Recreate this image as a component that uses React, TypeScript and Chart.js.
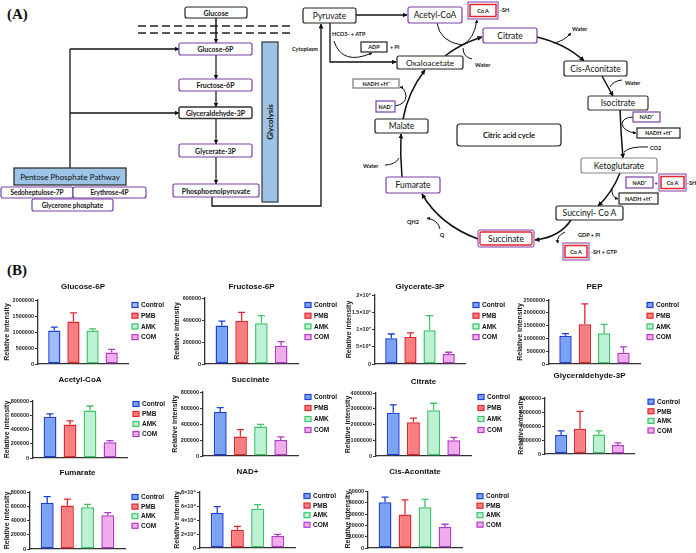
import React, { useEffect, useRef } from 'react';
import { Chart, registerables } from 'chart.js';
Chart.register(...registerables);

const FAM = '"Liberation Sans", Arial, sans-serif';
const DFAM = 'Lato, "Liberation Sans", sans-serif';

const groups = ['Control', 'PMB', 'AMK', 'COM'];
const groupFills = ['#7AA3F3', '#F77F7F', '#BDF1D5', '#F1ACEB'];
const groupBorders = ['#1E3FD9', '#E2262D', '#3DC466', '#B13BC9'];

const glucose6pMeans = [1050000, 1330000, 1050000, 360000];
const glucose6pSd = [100000, 270000, 50000, 100000];
const fructose6pMeans = [350000, 390000, 370000, 166000];
const fructose6pSd = [40000, 80000, 70000, 37000];
const glycerate3pMeans = [7.5e6, 7.8e6, 9.8e6, 2.9e6];
const glycerate3pSd = [1.2e6, 1.2e6, 4.2e6, 0.5e6];
const pepMeans = [1100000, 1550000, 1200000, 440000];
const pepSd = [90000, 800000, 350000, 230000];
const acetylCoaMeans = [580000, 470000, 665000, 220000];
const acetylCoaSd = [40000, 50000, 65000, 25000];
const succinateMeans = [550000, 245000, 370000, 200000];
const succinateSd = [55000, 85000, 25000, 38000];
const citrateMeans = [2750000, 2150000, 2900000, 1000000];
const citrateSd = [500000, 250000, 450000, 180000];
const glyceraldehyde3pMeans = [2700000, 3600000, 2800000, 1300000];
const glyceraldehyde3pSd = [600000, 2500000, 500000, 300000];
const fumarateMeans = [64500, 61000, 58500, 47500];
const fumarateSd = [9000, 9000, 4000, 3500];
const nadMeans = [50000, 26000, 56000, 17000];
const nadSd = [9000, 5000, 6000, 2500];
const cisAconitateMeans = [40500, 29500, 36000, 18500];
const cisAconitateSd = [4500, 13000, 7000, 2500];

const glycerate3pTicks = ['0', '5×10⁶', '1×10⁷', '1.5×10⁷', '2×10⁷'];
const nadTicks = ['0', '2×10⁴', '4×10⁴', '6×10⁴', '8×10⁴'];

// layout: area = [left, top, right, bottom]
const panels = [
  { title: 'Glucose-6P', means: glucose6pMeans, sd: glucose6pSd, max: 2000000, step: 500000, area: [38, 300, 128, 364], titleY: 287, labelX: 8, legendX: 132, legendTop: 305, spacing: 10.7, controlFill: '#9DBDF4' },
  { title: 'Fructose-6P', means: fructose6pMeans, sd: fructose6pSd, max: 600000, step: 200000, area: [205, 298, 298, 364], titleY: 287, labelX: 178, legendX: 305, legendTop: 305, spacing: 10.7 },
  { title: 'Glycerate-3P', means: glycerate3pMeans, sd: glycerate3pSd, max: 2e7, step: 5e6, ticks: glycerate3pTicks, area: [375, 295, 465, 364], titleY: 287, labelX: 350, legendX: 473, legendTop: 305, spacing: 10.7 },
  { title: 'PEP', means: pepMeans, sd: pepSd, max: 2500000, step: 500000, area: [549, 300, 640, 364], titleY: 287, labelX: 521, legendX: 647, legendTop: 305, spacing: 10.7 },
  { title: 'Acetyl-CoA', means: acetylCoaMeans, sd: acetylCoaSd, max: 800000, step: 200000, area: [33, 401, 127, 458], titleY: 380, labelX: 8, legendX: 133, legendTop: 404, spacing: 10 },
  { title: 'Succinate', means: succinateMeans, sd: succinateSd, max: 800000, step: 200000, area: [203, 392, 298, 456], titleY: 380, labelX: 176, legendX: 305, legendTop: 397, spacing: 11 },
  { title: 'Citrate', means: citrateMeans, sd: citrateSd, max: 4000000, step: 1000000, area: [376, 393, 471, 456], titleY: 382, labelX: 349, legendX: 478, legendTop: 397, spacing: 11 },
  { title: 'Glyceraldehyde-3P', means: glyceraldehyde3pMeans, sd: glyceraldehyde3pSd, max: 8000000, step: 2000000, area: [545, 398, 634, 454], titleY: 376, labelX: 522, legendX: 648, legendTop: 401.7, spacing: 9.6 },
  { title: 'Fumarate', means: fumarateMeans, sd: fumarateSd, max: 80000, step: 20000, area: [30, 491.5, 125, 548], titleY: 472.5, labelX: 8, legendX: 132, legendTop: 496.5, spacing: 9.6 },
  { title: 'NAD+', means: nadMeans, sd: nadSd, max: 80000, step: 20000, ticks: nadTicks, area: [200, 492, 295, 548], titleY: 472, labelX: 178, legendX: 304, legendTop: 496, spacing: 9.6 },
  { title: 'Cis-Aconitate', means: cisAconitateMeans, sd: cisAconitateSd, max: 50000, step: 10000, area: [368, 491.7, 462, 548], titleY: 472.3, labelX: 349, legendX: 477, legendTop: 496.5, spacing: 9.5 },
];

const errorBars = {
  id: 'errorBars',
  afterDatasetsDraw(chart: any) {
    const { ctx } = chart;
    const y = chart.scales.y;
    ctx.save();
    chart.data.datasets.forEach((ds: any, i: number) => {
      const el = chart.getDatasetMeta(i).data[0];
      if (!el) return;
      const top = y.getPixelForValue(ds.data[0] + ds.sd);
      ctx.strokeStyle = ds.borderColor;
      ctx.lineWidth = 1.3;
      ctx.beginPath();
      ctx.moveTo(el.x, el.y);
      ctx.lineTo(el.x, top);
      ctx.moveTo(el.x - 3.5, top);
      ctx.lineTo(el.x + 3.5, top);
      ctx.stroke();
    });
    ctx.restore();
  },
};

const decor = {
  id: 'decor',
  afterDraw(chart: any, _a: any, o: any) {
    const { ctx, chartArea } = chart;
    ctx.save();
    ctx.fillStyle = '#111';
    ctx.font = `bold 8px ${FAM}`;
    ctx.textAlign = 'center';
    ctx.textBaseline = 'middle';
    ctx.fillText(o.title, (chartArea.left + chartArea.right) / 2, o.titleY);
    chart.data.datasets.forEach((ds: any, i: number) => {
      const yy = o.legendTop + i * o.spacing;
      ctx.fillStyle = ds.backgroundColor;
      ctx.fillRect(o.legendX, yy - 2.5, 6, 5);
      ctx.strokeStyle = ds.borderColor;
      ctx.lineWidth = 1.2;
      ctx.strokeRect(o.legendX, yy - 2.5, 6, 5);
      ctx.fillStyle = '#111';
      ctx.textAlign = 'left';
      ctx.font = `bold 6.5px ${FAM}`;
      ctx.fillText(ds.label, o.legendX + 9, yy + 0.5);
    });
    ctx.restore();
  },
};

function BarPanel({ p }: { p: any }) {
  const ref = useRef<HTMLCanvasElement>(null);
  const cl = p.labelX - 5;
  const ct = p.titleY - 7;
  const cr = p.legendX + 40;
  const cb = p.area[3] + 5;
  const w = Math.round(cr - cl);
  const h = Math.round(cb - ct);
  useEffect(() => {
    if (!ref.current) return;
    const chart = new Chart(ref.current, {
      type: 'bar',
      data: {
        labels: [''],
        datasets: groups.map((g, i) => ({
          label: g,
          data: [p.means[i]],
          sd: p.sd[i],
          backgroundColor: i === 0 && p.controlFill ? p.controlFill : groupFills[i],
          borderColor: groupBorders[i],
          borderWidth: 1.5,
          borderSkipped: false,
          categoryPercentage: 0.85,
          barPercentage: 0.64,
        })) as any,
      },
      options: {
        responsive: false,
        animation: false,
        devicePixelRatio: 1,
        layout: { padding: { left: 0, top: p.area[1] - ct, right: cr - p.area[2], bottom: cb - p.area[3] } },
        plugins: {
          legend: { display: false },
          title: { display: false },
          tooltip: { enabled: false },
          decor: {
            title: p.title,
            titleY: p.titleY - ct,
            legendX: p.legendX - cl,
            legendTop: p.legendTop - ct,
            spacing: p.spacing,
          },
        } as any,
        scales: {
          x: {
            type: 'category',
            ticks: { display: false },
            grid: { display: false },
            border: { display: true, color: '#333', width: 1.3 },
            afterFit: (sc: any) => { sc.height = 0; },
          },
          y: {
            min: 0,
            max: p.max,
            ticks: {
              stepSize: p.step,
              padding: 1,
              color: '#222',
              font: { size: 5.5, weight: 'bold', family: FAM },
              callback: (v: any, i: number) => (p.ticks ? p.ticks[i] : String(v)),
            },
            grid: { display: true, drawOnChartArea: false, drawTicks: true, tickLength: 3, color: '#333', lineWidth: 1 },
            border: { display: true, color: '#333', width: 1.3 },
            title: { display: true, text: 'Relative intensity', color: '#222', padding: 0, font: { size: 7, weight: 'bold', family: FAM } },
            afterFit: (sc: any) => { sc.width = p.area[0] - cl; },
          },
        } as any,
      },
      plugins: [errorBars, decor],
    });
    return () => chart.destroy();
  }, []);
  return <canvas ref={ref} width={w} height={h} style={{ position: 'absolute', left: cl, top: ct, width: w, height: h }} />;
}

const PURPLE = '#7B3FA8';
const RED = '#E3262E';
const BLUEFILL = '#9DC3E6';

function Box({ x, y, w, h, stroke = '#222', fill = '#fff', sw = 1.2, rx = 2 }: any) {
  return <rect x={x} y={y} width={w} height={h} rx={rx} fill={fill} stroke={stroke} strokeWidth={sw} />;
}
function T({ x, y, s = 7, b = true, a = 'middle', children, rot }: any) {
  return (
    <text x={x} y={y} fontSize={s} fontWeight={b ? 'bold' : 'normal'} textAnchor={a} dominantBaseline="central" fontFamily={DFAM} fill="#111" transform={rot ? `rotate(${rot} ${x} ${y})` : undefined}>{children}</text>
  );
}
function Ar({ d, w = 1.5, m = 'a' }: any) {
  return <path d={d} fill="none" stroke="#111" strokeWidth={w} markerEnd={m ? `url(#${m})` : undefined} />;
}
function CoA({ x, y, w, h }: any) {
  return (
    <g>
      <rect x={x} y={y} width={w} height={h} fill="#fff" stroke={PURPLE} strokeWidth={1} />
      <rect x={x + 2} y={y + 2.5} width={w - 4} height={h - 5} fill="#fff" stroke={RED} strokeWidth={1.5} />
      <T x={x + w / 2} y={y + h / 2} s={5.5}>Co A</T>
    </g>
  );
}

function Diagram() {
  return (
    <svg width={696} height={553} style={{ position: 'absolute', left: 0, top: 0 }}>
      <defs>
        <marker id="a" viewBox="0 0 10 10" refX="9" refY="5" markerWidth="5" markerHeight="5" orient="auto" markerUnits="userSpaceOnUse">
          <path d="M0,0 L10,5 L0,10 z" fill="#111" />
        </marker>
        <marker id="s" viewBox="0 0 10 10" refX="9" refY="5" markerWidth="3.5" markerHeight="3.5" orient="auto" markerUnits="userSpaceOnUse">
          <path d="M0,0 L10,5 L0,10 z" fill="#111" />
        </marker>
      </defs>
      <text x={7} y={19} fontFamily='"Liberation Serif", "Times New Roman", serif' fontWeight="bold" fontSize={15} fill="#111">(A)</text>
      <text x={7} y={275} fontFamily='"Liberation Serif", "Times New Roman", serif' fontWeight="bold" fontSize={15} fill="#111">(B)</text>

      {/* glycolysis */}
      <Ar d="M216 18 L216 43" />
      <line x1={138} y1={26} x2={290} y2={26} stroke="#222" strokeWidth={1.5} strokeDasharray="8 4" />
      <line x1={138} y1={33} x2={290} y2={33} stroke="#222" strokeWidth={1.5} strokeDasharray="8 4" />
      <Ar d="M216 55 L216 79" w={1.2} />
      <Ar d="M216 91 L216 107" w={1.2} />
      <Ar d="M216 118 L216 144" w={1.2} />
      <Ar d="M216 157 L216 184" w={1.2} />
      <Ar d="M212 197 L212 206 L321 206 L321 24" w={1.3} />
      <path d="M70 168 L70 49" stroke="#111" strokeWidth={1.3} fill="none" />
      <Ar d="M70 49 L179 49" w={1.3} />
      <Ar d="M70 113 L179 113" w={1.3} />
      <Box x={185} y={7} w={62} h={11} />
      <T x={216} y={12.5}>Glucose</T>
      <Box x={179} y={43} w={73} h={12} stroke={PURPLE} />
      <T x={215.5} y={49}>Glucose-6P</T>
      <Box x={179} y={79} w={73} h={12} stroke={PURPLE} />
      <T x={215.5} y={85}>Fructose-6P</T>
      <Box x={179} y={107} w={73} h={11.5} stroke="#333" sw={1.4} />
      <T x={215.5} y={113}>Glyceraldehyde-3P</T>
      <Box x={179} y={144} w={73} h={13} stroke={PURPLE} />
      <T x={215.5} y={150.5}>Glycerate-3P</T>
      <Box x={173} y={184} w={86} h={13} stroke={PURPLE} />
      <T x={216} y={190.5}>Phosphoenolpyruvate</T>
      <rect x={262} y={42} width={16} height={160} fill={BLUEFILL} stroke="#333" strokeWidth={1.2} />
      <T x={270} y={122} s={8} rot={-90}>Glycolysis</T>
      <T x={305} y={49} s={5.5}>Cytoplasm</T>
      <rect x={14} y={168} width={112} height={17} fill={BLUEFILL} stroke="#333" strokeWidth={1.3} />
      <T x={70} y={176.5} s={8} b={false}>Pentose Phosphate Pathway</T>
      <Box x={1} y={187} w={72} h={11} stroke={PURPLE} />
      <T x={37} y={192.5} s={6.5}>Sedoheptulose-7P</T>
      <Box x={73} y={187} w={73} h={11} stroke={PURPLE} />
      <T x={109.5} y={192.5} s={6.5}>Erythrose-4P</T>
      <Box x={32} y={199} w={81} h={12} stroke={PURPLE} />
      <T x={72.5} y={205} s={6.5}>Glycerone phosphate</T>

      {/* TCA */}
      <Ar d="M356 15 L407 15" w={1.3} />
      <Ar d="M330 23 L330 62 L396 62" w={1.3} />
      <Ar d="M334 41 Q342 66 372 53" w={1} m="s" />
      <Ar d="M445 56 Q460 44 482 37" />
      <Ar d="M437 23 Q440 42 462 45" w={1} m={null} />
      <Ar d="M462 45 Q474 40 477 20" w={1} m="s" />
      <Ar d="M472 59 Q463 57 463 48" w={1} m={null} />
      <Ar d="M537 37 Q566 44 584 61" />
      <Ar d="M553 43 Q563 42 571 33" w={1} m="s" />
      <Ar d="M602 76 L613 96" />
      <Ar d="M622 80 Q613 81 610 87" w={1} m={null} />
      <Ar d="M620 110 Q621 135 623 158" />
      <Ar d="M633 117 Q623 117 622 124 Q624 132 636 133" w={1} m="s" />
      <Ar d="M648 147 Q630 146 624 152" w={1} m={null} />
      <Ar d="M620 173 Q612 193 598 206" />
      <Ar d="M612 188 Q611 197 618 199" w={1} m="s" />
      <Ar d="M571 220 Q560 237 535 240" />
      <Ar d="M565 232 Q556 236 558 243" w={1} m="s" />
      <Ar d="M478 239 Q440 225 422 194" />
      <Ar d="M440 229 Q438 220 427 218" w={1} m="s" />
      <Ar d="M402 177 Q400 155 401 134" />
      <Ar d="M385 165 Q395 165 399 158" w={1} m={null} />
      <Ar d="M403 119 Q408 92 425 70" />
      <Ar d="M395 106 Q406 104 406 96 Q405 88 400 87" w={1} m="s" />

      <Box x={303} y={8} w={53} h={15} />
      <T x={329.5} y={15.5} s={8.5} b={false}>Pyruvate</T>
      <Box x={408} y={7} w={54} h={16} stroke={PURPLE} />
      <T x={435} y={15} s={8.5} b={false}>Acetyl-CoA</T>
      <CoA x={468} y={2} w={30} h={17} />
      <T x={500} y={10} s={5.5} a="start">-SH</T>
      <T x={332} y={34} s={5.5} a="start">HCO3-  + ATP</T>
      <Box x={361} y={42} w={26} h={10} rx={0} />
      <T x={374} y={47} s={5.5}>ADP</T>
      <T x={390} y={47} s={5.5} a="start">+ Pi</T>
      <Box x={397} y={56} w={66} h={13} />
      <T x={430} y={62.5} s={8.3} b={false}>Oxaloacetate</T>
      <T x={475} y={65} s={5.5} a="start">Water</T>
      <Box x={483} y={28} w={54} h={15} stroke={PURPLE} />
      <T x={510} y={35.5} s={8.5} b={false}>Citrate</T>
      <T x={572} y={29} s={5.5} a="start">Water</T>
      <Box x={564} y={61} w={63} h={15} />
      <T x={595.5} y={68.5} s={8.5} b={false}>Cis-Aconitate</T>
      <T x={625} y={83} s={5.5} a="start">Water</T>
      <Box x={588} y={96} w={60} h={14} stroke="#333" />
      <T x={618} y={103} s={8.5} b={false}>Isocitrate</T>
      <Box x={633} y={112} w={27} h={10} stroke={PURPLE} rx={0} />
      <T x={646.5} y={117} s={5.5}>NAD⁺</T>
      <Box x={637} y={128} w={43} h={10} rx={0} />
      <T x={658.5} y={133} s={5.5}>NADH +H⁺</T>
      <T x={650} y={148} s={5.5} a="start">CO2</T>
      <Box x={581} y={158} w={76} h={15} stroke="#888" />
      <T x={619} y={165.5} s={8.5} b={false}>Ketoglutarate</T>
      <Box x={626} y={177} w={27} h={11} stroke={PURPLE} rx={0} />
      <T x={639.5} y={182.5} s={5.5}>NAD⁺</T>
      <T x={656} y={182.5} s={5.5}>+</T>
      <CoA x={659} y={174} w={27} h={17} />
      <T x={687} y={183} s={5.5} a="start">-SH</T>
      <Box x={619} y={193} w={39} h={11} rx={0} />
      <T x={638.5} y={198.5} s={5.5}>NADH +H⁺</T>
      <Box x={556} y={206} w={67} h={14} />
      <T x={589.5} y={213} s={8.5} b={false}>Succinyl- Co A</T>
      <T x={578} y={235} s={5.5} a="start">GDP  +   Pi</T>
      <CoA x={563} y={243} w={26} h={17} />
      <T x={591} y={251.5} s={5.5} a="start">-SH   +  GTP</T>
      <rect x={478} y={230} width={56} height={17} rx={2} fill="#fff" stroke={PURPLE} strokeWidth={1} />
      <rect x={480} y={232} width={52} height={13} rx={1.5} fill="#fff" stroke={RED} strokeWidth={1.3} />
      <T x={506} y={238.5} s={8.5} b={false}>Succinate</T>
      <T x={442} y={235} s={5.5}>Q</T>
      <T x={413} y={222} s={5.5}>QH2</T>
      <Box x={386} y={177} w={54} h={16} stroke={PURPLE} />
      <T x={413} y={185} s={8.5} b={false}>Fumarate</T>
      <T x={363} y={166} s={5.5} a="start">Water</T>
      <Box x={375} y={119} w={53} h={14} />
      <T x={401.5} y={126} s={8.5} b={false}>Malate</T>
      <Box x={376} y={101} w={19} h={11} stroke={PURPLE} rx={0} />
      <T x={385.5} y={106.5} s={5.5}>NAD⁺</T>
      <Box x={353} y={79} w={46} h={9} stroke="#777" rx={0} />
      <T x={376} y={83.5} s={5.5}>NADH +H⁺</T>
      <Box x={457} y={124} w={104} h={22} rx={3} />
      <T x={509} y={135} s={7.5}>Citric acid cycle</T>
    </svg>
  );
}

export default function App() {
  return (
    <div style={{ position: 'absolute', left: 0, top: 0, width: 696, height: 553, background: '#fff', overflow: 'hidden' }}>
      <Diagram />
      {panels.map((p) => (
        <BarPanel key={p.title} p={p} />
      ))}
    </div>
  );
}
